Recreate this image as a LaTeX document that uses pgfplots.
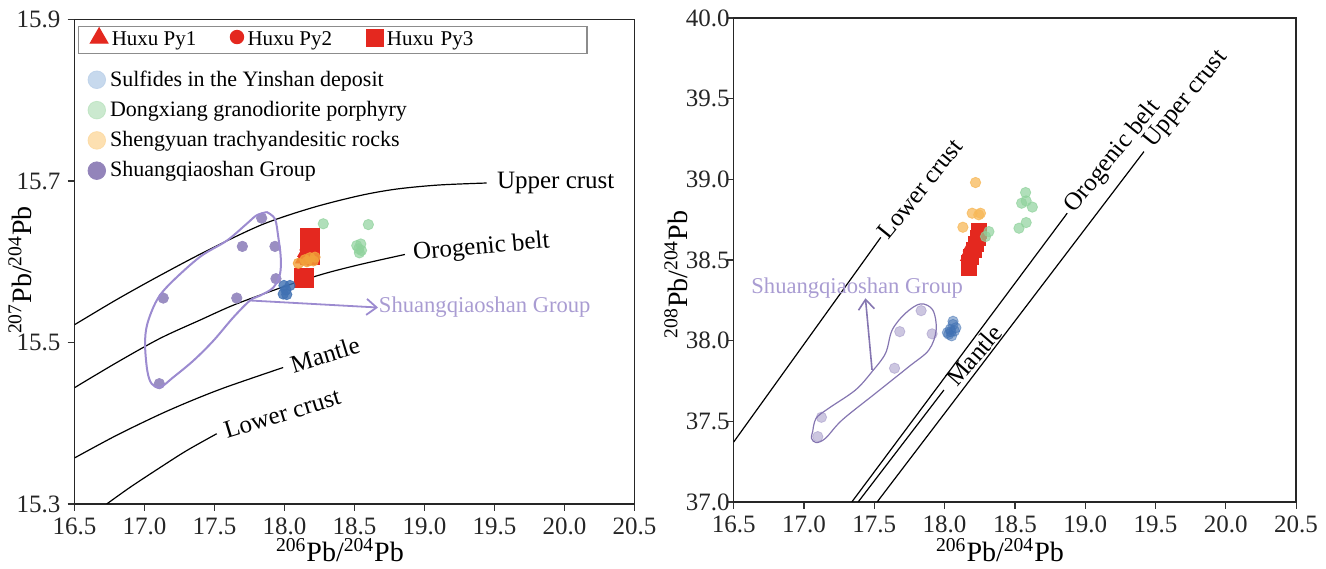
\documentclass[border=0pt]{standalone}
\usepackage{pgfplots}
\pgfplotsset{compat=1.18}
\usepackage{fontspec}
\setmainfont{Liberation Serif}
\usetikzlibrary{arrows.meta}
\definecolor{hxred}{HTML}{E4281F}
\definecolor{sulfleg}{HTML}{B9CFE8}
\definecolor{sulfpt}{HTML}{3F70B2}
\definecolor{dxleg}{HTML}{B5E0BA}
\definecolor{dxpt}{HTML}{8FD29C}
\definecolor{syleg}{HTML}{FCD89E}
\definecolor{sypt}{HTML}{F7B858}
\definecolor{sypt2}{HTML}{F2A23A}
\definecolor{sqleg}{HTML}{9384BA}
\definecolor{sqpt}{HTML}{9A8EC2}
\definecolor{sqline}{HTML}{9C8BD0}
\definecolor{sqtext}{HTML}{A99CD2}

\tikzset{lbl/.style={font=\fontsize{12.5}{14}\selectfont, inner sep=0pt}}
\pgfplotsset{
  chartbase/.style={
    scale only axis,
    xmin=16.5, xmax=20.5,
    xtick={16.5,17,17.5,18,18.5,19,19.5,20,20.5},
    /pgf/number format/assume math mode=true,
    tick label style={font=\fontsize{12.5}{14}\selectfont, text=black!85,
      /pgf/number format/fixed, /pgf/number format/fixed zerofill,
      /pgf/number format/precision=1, /pgf/number format/1000 sep={}},
    tick align=outside, xtick pos=bottom, ytick pos=left,
    major tick length=3.5pt,
    every tick/.style={black!80, line width=0.6pt},
    axis line style={black!85, line width=0.7pt},
    clip mode=individual,
    label style={font=\fontsize{14}{16}\selectfont},
  },
  curve/.style={black, line width=0.6pt, smooth, forget plot},
  pts/.style={only marks, mark=*, mark size=2.6pt},
}

\begin{document}
\begin{tikzpicture}
\path (0,0) rectangle (663pt,281pt);

% ---------------- LEFT PANEL ----------------
\begin{axis}[chartbase, name=left,
  at={(37.25pt,29pt)}, anchor=south west, width=280pt, height=242.25pt,
  ymin=15.3, ymax=15.9, ytick={15.3,15.5,15.7,15.9},
  xlabel={\textsuperscript{206}Pb/\textsuperscript{204}Pb},
  ylabel={\textsuperscript{207}Pb/\textsuperscript{204}Pb},
  xlabel style={at={(axis description cs:0.474,-0.095)}, anchor=center},
  ylabel style={at={(axis description cs:-0.097,0.483)}, anchor=center},
  legend columns=3,
  legend cell align=left,
  legend style={at={(0.006,0.9866)}, anchor=north west, draw=black!45, line width=0.6pt,
    font=\fontsize{10.5}{12}\selectfont, inner xsep=6pt, inner ysep=0.5pt,
    /tikz/every even column/.append style={column sep=15pt},
    /tikz/column 6/.append style={text width=92pt}},
]
% model curves
\addplot[curve] coordinates {(16.5,15.522)(16.8,15.553)(17.1,15.582)(17.45,15.614)(17.84,15.646)(18.2,15.667)(18.54,15.682)(18.8,15.690)(19.1,15.695)(19.444,15.6975)};
\addplot[curve] coordinates {(16.5,15.444)(16.8,15.475)(17.11,15.505)(17.4,15.528)(17.66,15.548)(18.06,15.573)(18.3,15.586)(18.55,15.597)(18.86,15.609)};
\addplot[curve] coordinates {(16.5,15.357)(16.8,15.385)(17.11,15.411)(17.35,15.429)(17.587,15.445)(17.99,15.469)};
\addplot[curve] coordinates {(16.73,15.3)(16.9,15.321)(17.11,15.345)(17.3,15.366)(17.516,15.387)};
% Huxu pyrite
\addplot[only marks, mark=triangle*, mark size=4.5pt, color=hxred, fill=hxred,
  legend image code/.code={\draw[hxred,fill=hxred] plot[mark=triangle*, mark size=5pt] coordinates {(4.5pt,1pt)};}]
  coordinates {(18.135,15.604)(18.15,15.612)(18.165,15.62)};
\addlegendentry{Huxu Py1}
\addplot[only marks, mark=*, mark size=3pt, color=hxred, fill=hxred,
  legend image code/.code={\draw[hxred,fill=hxred] plot[mark=*, mark size=3.3pt] coordinates {(3.5pt,1.5pt)};}]
  coordinates {(18.17,15.603)(18.19,15.606)};
\addlegendentry{Huxu Py2}
\addplot[only marks, mark=square*, mark size=4.6pt, color=hxred, fill=hxred,
  legend image code/.code={\draw[hxred,fill=hxred] plot[mark=square*, mark size=4.2pt] coordinates {(4.2pt,1pt)};}]
  coordinates {(18.18,15.6305)(18.18,15.6087)(18.139,15.58)};
\addlegendentry{Huxu Py3}
% labels
\node[lbl, anchor=west] at (axis cs:19.444,15.6975) {\hspace{5pt}Upper crust};
\node[lbl, anchor=west, rotate=5] at (axis cs:18.86,15.609) {\hspace{4pt}Orogenic belt};
\node[lbl, anchor=west, rotate=17] at (axis cs:17.99,15.469) {\hspace{4pt}Mantle};
\node[lbl, anchor=west, rotate=17] at (axis cs:17.516,15.387) {\hspace{4pt}Lower crust};
\end{axis}

\begin{axis}[chartbase, hide axis,
  at={(37.25pt,29pt)}, anchor=south west, width=280pt, height=242.25pt,
  ymin=15.3, ymax=15.9,
  legend cell align=left,
  legend style={at={(0.012,0.912)}, anchor=north west, draw=none, fill=none,
    font=\fontsize{11}{13}\selectfont, row sep=2pt},
]
\addplot[pts, color=sulfpt, opacity=0.8,
  legend image code/.code={\fill[sulfleg] (4pt,0pt) circle (4.4pt);}]
  coordinates {(17.996,15.5706)(18.039,15.5706)(17.991,15.560)(18.016,15.5594)(18.01,15.565)};
\addlegendentry{Sulfides in the Yinshan deposit}
\addplot[pts, color=dxpt, opacity=0.7,
  legend image code/.code={\fill[dxleg] (4pt,0pt) circle (4.4pt);}]
  coordinates {(18.277,15.647)(18.599,15.646)(18.516,15.620)(18.53,15.616)(18.545,15.622)(18.55,15.614)(18.535,15.611)};
\addlegendentry{Dongxiang granodiorite porphyry}
\addplot[pts, color=sypt2, opacity=0.8,
  legend image code/.code={\fill[syleg] (4pt,0pt) circle (4.4pt);}]
  coordinates {(18.099,15.598)(18.146,15.6025)(18.182,15.605)(18.218,15.6057)(18.206,15.601)(18.16,15.600)};
\addlegendentry{Shengyuan trachyandesitic rocks}
\addplot[pts, color=sqpt,
  legend image code/.code={\fill[sqleg] (4pt,0pt) circle (4.4pt);}]
  coordinates {(17.837,15.654)(17.699,15.619)(17.932,15.619)(17.939,15.579)(17.134,15.555)(17.659,15.555)(17.106,15.449)};
\addlegendentry{Shuangqiaoshan Group}
% field outline
\addplot[sqline, line width=1pt, smooth, tension=0.55, forget plot] coordinates {
 (17.873,15.6615)(17.932,15.653)(17.956,15.630)(17.973,15.606)(17.968,15.585)(17.92,15.568)
 (17.825,15.558)(17.754,15.552)(17.634,15.531)(17.491,15.502)(17.349,15.4775)(17.206,15.457)
 (17.111,15.4444)(17.051,15.449)(17.02,15.465)(17.004,15.498)(17.02,15.523)(17.087,15.552)
 (17.182,15.5727)(17.396,15.606)(17.587,15.626)(17.73,15.647)(17.801,15.6575)(17.873,15.6615)};
\addplot[sqline, line width=0.9pt, -{Straight Barb[length=5pt,width=8pt]}, forget plot]
  coordinates {(17.754,15.552)(18.668,15.5433)};
\node[anchor=west, text=sqtext, font=\fontsize{11.3}{13}\selectfont, inner sep=0pt]
  at (axis cs:18.672,15.5433) {Shuangqiaoshan Group};
\end{axis}

% ---------------- RIGHT PANEL ----------------
\begin{axis}[chartbase,
  at={(366.85pt,30pt)}, anchor=south west, width=281.2pt, height=242pt,
  ymin=37, ymax=40, ytick={37,37.5,38,38.5,39,39.5,40},
  yticklabel style={xshift=5pt},
  xlabel={\textsuperscript{206}Pb/\textsuperscript{204}Pb},
  ylabel={\textsuperscript{208}Pb/\textsuperscript{204}Pb},
  xlabel style={at={(axis description cs:0.4735,-0.099)}, anchor=center},
  ylabel style={at={(axis description cs:-0.102,0.47)}, anchor=center},
]
\addplot[black, line width=0.6pt] coordinates {(16.5,37.372)(17.546,38.64)};
\addplot[black, line width=0.6pt] coordinates {(17.34,37.0)(18.872,38.79)};
\addplot[black, line width=0.6pt] coordinates {(17.385,37.0)(17.995,37.694)};
\addplot[black, line width=0.6pt] coordinates {(17.52,37.0)(19.418,39.172)};
\node[lbl, anchor=west, rotate=51] at (axis cs:17.546,38.64) {\hspace{1pt}Lower crust};
\node[lbl, anchor=west, rotate=51] at (axis cs:18.872,38.79) {\hspace{2pt}Orogenic belt};
\node[lbl, anchor=west, rotate=51] at (axis cs:19.418,39.172) {\hspace{4pt}Upper crust};
\node[lbl, anchor=west, rotate=49] at (axis cs:17.995,37.694) {\hspace{5pt}Mantle};
% Huxu
\addplot[only marks, mark=triangle*, mark size=3.8pt, color=hxred, fill=hxred]
  coordinates {(18.17,38.55)(18.16,38.52)(18.18,38.58)};
\addplot[only marks, mark=square*, mark size=3.75pt, color=hxred, fill=hxred]
  coordinates {(18.245,38.68)(18.24,38.64)(18.225,38.60)(18.21,38.56)(18.19,38.52)(18.175,38.48)(18.174,38.448)};
% others
\addplot[pts, color=sulfpt, opacity=0.5]
  coordinates {(18.02,38.05)(18.04,38.07)(18.06,38.10)(18.07,38.06)(18.05,38.03)(18.08,38.08)(18.03,38.04)(18.06,38.12)(18.045,38.055)};
\addplot[pts, color=dxpt, opacity=0.7]
  coordinates {(18.576,38.918)(18.548,38.852)(18.624,38.828)(18.58,38.866)(18.58,38.732)(18.529,38.697)(18.315,38.676)(18.291,38.645)};
\addplot[pts, color=sypt, opacity=0.75]
  coordinates {(18.22,38.98)(18.196,38.79)(18.243,38.78)(18.255,38.79)(18.13,38.703)};
\addplot[pts, color=sqpt, opacity=0.5]
  coordinates {(17.124,37.525)(17.098,37.405)(17.644,37.829)(17.681,38.056)(17.911,38.042)(17.833,38.186)};
\addplot[sqline!85!black, line width=0.6pt, smooth, tension=0.55] coordinates {
 (17.062,37.436)(17.086,37.519)(17.176,37.581)(17.366,37.694)(17.484,37.808)(17.58,37.922)
 (17.627,38.066)(17.722,38.17)(17.829,38.228)(17.916,38.19)(17.94,38.066)(17.888,37.942)
 (17.746,37.839)(17.509,37.674)(17.271,37.508)(17.153,37.395)(17.086,37.368)(17.053,37.395)(17.062,37.436)};
\addplot[sqline!85!black, line width=0.8pt, -{Straight Barb[length=5pt,width=8pt]}]
  coordinates {(17.484,37.819)(17.437,38.263)};
\node[text=sqtext, font=\fontsize{11.3}{13}\selectfont, inner sep=0pt]
  at (axis cs:17.378,38.325) {Shuangqiaoshan Group};
\end{axis}
\end{tikzpicture}
\end{document}
